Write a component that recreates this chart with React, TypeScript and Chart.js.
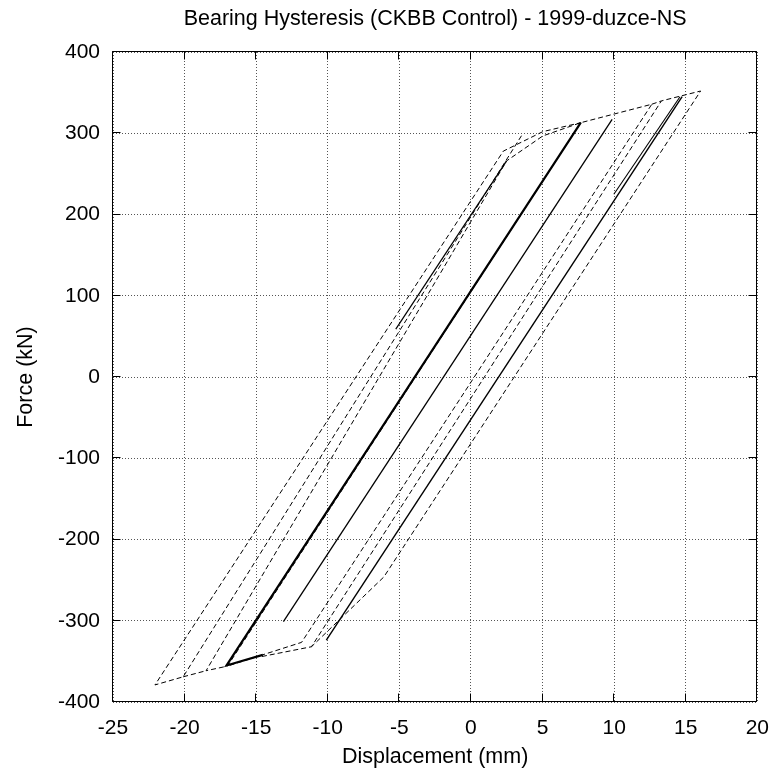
import React, { useEffect, useRef } from 'react';
import { Chart, registerables } from 'chart.js';

Chart.register(...registerables);

const titleText = 'Bearing Hysteresis (CKBB Control) - 1999-duzce-NS';
const xLabel = 'Displacement (mm)';
const yLabel = 'Force (kN)';
const xTicks = [-25, -20, -15, -10, -5, 0, 5, 10, 15, 20];
const yTicks = [-400, -300, -200, -100, 0, 100, 200, 300, 400];

// Dashed trace, main path (displacement mm, force kN)
const dashedDispA = [3.53, -20.1, -22.07, 2.26, 5.02, 7.67, -17.0, -18.5, 2.49, 5.02, 7.67, 12.63, -11.83, -17.0];
const dashedForceA = [297, -369, -379, 278, 302, 313, -355.8, -361.5, 266, 296.7, 313, 335.7, -326.6, -355.8];
// Dashed trace, lower envelope piece
const dashedDispB = [-20.1, -18.5];
const dashedForceB = [-369, -361.5];
// Dashed trace, upper envelope piece
const dashedDispC = [12.63, 13.3];
const dashedForceC = [335.7, 339.8];
// Dashed trace, last excursions
const dashedDispD = [-14.6, -11.14, 13.3, 16.04, -6.08, -11.14];
const dashedForceD = [-344, -332, 339.8, 352, -246, -332];

// Solid trace pieces
const solidThickDisp = [-14.54, -17.07, 7.67];
const solidThickForce = [-342, -355, 313];
const solidMidDisp = [-13.1, 9.86];
const solidMidForce = [-301, 317.2];
const solidRightDisp = [-10.1, 14.75];
const solidRightForce = [-323.8, 345];
const solidThinDisp = [9.98, 14.6];
const solidThinForce = [225, 345];
const solidLeftDisp = [-5.25, 2.49];
const solidLeftForce = [59, 266];

const pts = (xs: number[], ys: number[]) => xs.map((x, i) => ({ x, y: ys[i] }));

const FONT = "'Liberation Sans', Arial, Helvetica, sans-serif";

const framePlugin = {
  id: 'frame',
  beforeDatasetsDraw(chart: any) {
    const { ctx, chartArea } = chart;
    const { left, right, top, bottom } = chartArea;
    const xs = chart.scales.x;
    const ys = chart.scales.y;
    const L = Math.round(left) - 0.5;
    const R = Math.round(right) - 0.5;
    const T = Math.round(top) - 0.5;
    const B = Math.round(bottom) - 0.5;
    const len = 8;
    ctx.save();
    ctx.strokeStyle = '#000';
    ctx.lineWidth = 1;
    ctx.setLineDash([]);
    ctx.beginPath();
    ctx.rect(L, T, R - L, B - T);
    xTicks.forEach((v) => {
      const px = Math.round(xs.getPixelForValue(v)) - 0.5;
      ctx.moveTo(px, B);
      ctx.lineTo(px, B - len);
      ctx.moveTo(px, T);
      ctx.lineTo(px, T + len);
    });
    yTicks.forEach((v) => {
      const py = Math.round(ys.getPixelForValue(v)) - 0.5;
      ctx.moveTo(L, py);
      ctx.lineTo(L + len, py);
      ctx.moveTo(R, py);
      ctx.lineTo(R - len, py);
    });
    ctx.stroke();
    ctx.restore();
  },
};

export default function App() {
  const ref = useRef<HTMLCanvasElement | null>(null);

  useEffect(() => {
    document.body.style.margin = '0';
    const canvas = ref.current;
    if (!canvas) return;
    const solid = (data: any, w: number) => ({
      data,
      borderColor: '#000',
      borderWidth: w,
      pointRadius: 0,
      tension: 0,
      fill: false,
    });
    const dashed = (data: any) => ({
      data,
      borderColor: '#000',
      borderWidth: 1,
      borderDash: [5, 3],
      pointRadius: 0,
      tension: 0,
      fill: false,
    });
    const chart = new Chart(canvas, {
      type: 'line',
      data: {
        datasets: [
          dashed(pts(dashedDispA, dashedForceA)),
          dashed(pts(dashedDispB, dashedForceB)),
          dashed(pts(dashedDispC, dashedForceC)),
          dashed(pts(dashedDispD, dashedForceD)),
          solid(pts(solidThickDisp, solidThickForce), 2.2),
          solid(pts(solidMidDisp, solidMidForce), 1.3),
          solid(pts(solidRightDisp, solidRightForce), 1.4),
          solid(pts(solidThinDisp, solidThinForce), 1.1),
          solid(pts(solidLeftDisp, solidLeftForce), 1.2),
        ] as any,
      },
      options: {
        responsive: false,
        animation: false,
        devicePixelRatio: 1,
        layout: { padding: { left: 0, right: 20, top: 0, bottom: 0 } },
        plugins: {
          legend: { display: false },
          tooltip: { enabled: false },
          title: {
            display: true,
            text: titleText,
            fullSize: false,
            color: '#000',
            font: { family: FONT, size: 21.5, weight: 'normal' },
            padding: { top: 6, bottom: 20.2 },
          },
        },
        scales: {
          x: {
            type: 'linear',
            min: -25,
            max: 20,
            afterBuildTicks: (s: any) => {
              s.ticks = xTicks.map((v) => ({ value: v }));
            },
            afterFit: (s: any) => {
              s.height = 72;
            },
            ticks: {
              color: '#000',
              font: { family: FONT, size: 21 },
              padding: 14,
              maxRotation: 0,
              autoSkip: false,
            },
            grid: { color: '#555', drawTicks: false, lineWidth: 1 },
            border: { display: false, dash: [1, 2] },
            title: {
              display: true,
              text: xLabel,
              color: '#000',
              font: { family: FONT, size: 21.5 },
              padding: { top: 0, bottom: 4 },
            },
          },
          y: {
            type: 'linear',
            min: -400,
            max: 400,
            afterBuildTicks: (s: any) => {
              s.ticks = yTicks.map((v) => ({ value: v }));
            },
            afterFit: (s: any) => {
              s.width = 113;
            },
            ticks: {
              color: '#000',
              font: { family: FONT, size: 21 },
              padding: 13,
              autoSkip: false,
            },
            grid: { color: '#555', drawTicks: false, lineWidth: 1 },
            border: { display: false, dash: [1, 2] },
            title: {
              display: true,
              text: yLabel,
              color: '#000',
              font: { family: FONT, size: 21.5 },
              padding: { top: 13, bottom: 0 },
            },
          },
        },
      },
      plugins: [framePlugin],
    });
    return () => chart.destroy();
  }, []);

  return (
    <div style={{ width: 783, height: 774 }}>
      <canvas ref={ref} width={783} height={774} style={{ width: 783, height: 774, display: 'block' }} />
    </div>
  );
}
